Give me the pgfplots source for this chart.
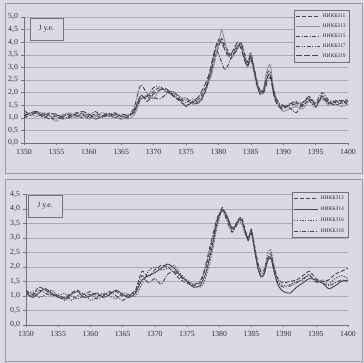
\documentclass[border=0pt]{standalone}
\usepackage{fontspec}
\setmainfont{Liberation Serif}
\usepackage{pgfplots}
\pgfplotsset{compat=1.18}
\usepackage{pgfplotstable}

\definecolor{bgc}{RGB}{220,217,227}
\definecolor{framec}{RGB}{155,153,163}
\definecolor{gridc}{RGB}{172,170,180}
\definecolor{axisc}{RGB}{115,113,123}
\definecolor{textc}{RGB}{50,48,56}
\definecolor{lined}{RGB}{70,68,78}
\definecolor{linel}{RGB}{145,143,153}

\pgfplotstableread{
x T1 T2 T3 T4 T5
1350 1.00 1.25 1.10 1.30 1.05
1351 1.10 1.15 1.20 1.10 1.20
1352 1.20 1.05 1.15 1.25 1.25
1353 1.10 1.20 1.05 1.15 1.00
1354 0.95 1.10 1.20 1.05 1.15
1355 1.10 0.95 1.05 0.85 1.15
1356 1.05 1.10 0.95 1.15 1.00
1357 1.15 1.20 1.05 1.10 1.00
1358 1.10 1.05 1.20 1.00 1.15
1359 1.00 1.10 1.15 1.20 1.25
1360 1.05 0.95 1.00 1.10 1.15
1361 1.15 1.05 1.10 1.25 0.95
1362 1.10 1.20 1.00 1.05 1.05
1363 1.05 1.10 1.15 1.10 1.20
1364 1.15 1.00 1.10 1.20 1.00
1365 1.05 1.10 0.95 1.05 1.15
1366 1.00 0.95 1.05 1.10 1.10
1367 1.30 1.10 1.40 1.25 1.20
1368 1.85 1.70 2.30 1.75 1.90
1369 1.75 1.90 1.95 1.85 1.65
1370 2.05 1.75 1.80 2.20 1.95
1371 2.20 2.15 1.75 2.25 2.10
1372 2.05 2.10 1.95 2.00 2.15
1373 1.90 2.00 2.05 1.95 1.85
1374 1.65 1.85 1.80 1.70 1.75
1375 1.50 1.70 1.60 1.80 1.45
1376 1.60 1.55 1.75 1.55 1.65
1377 1.75 1.65 1.60 1.60 1.85
1377.5 1.95 1.85 1.75 1.80 2.10
1378 2.20 2.05 2.05 2.10 2.35
1378.5 2.50 2.40 2.60 2.45 2.70
1379 2.90 2.75 3.10 3.00 3.20
1379.5 3.40 3.30 3.70 3.60 3.75
1380 3.80 3.90 3.55 4.00 4.10
1380.5 4.15 4.50 3.20 4.05 3.95
1381 3.90 4.00 2.90 3.80 3.70
1381.5 3.65 3.50 3.10 3.55 3.45
1382 3.45 3.35 3.40 3.50 3.55
1382.5 3.60 3.55 3.55 3.70 3.80
1383 3.85 3.75 3.80 3.90 4.00
1383.5 3.95 3.85 4.00 3.80 3.75
1384 3.50 3.40 3.60 3.40 3.30
1384.5 3.10 3.00 3.20 3.20 3.05
1385 3.45 3.30 3.60 3.50 3.35
1385.5 2.90 2.80 3.00 2.95 2.85
1386 2.30 2.20 2.40 2.35 2.25
1386.5 2.00 1.95 2.05 2.05 1.90
1387 2.10 2.20 2.00 2.15 2.05
1387.5 2.60 2.90 2.40 2.75 2.55
1388 2.70 3.10 2.60 2.85 2.75
1388.5 2.00 2.20 2.10 2.05 1.95
1389 1.60 1.70 1.75 1.65 1.55
1389.5 1.45 1.40 1.55 1.50 1.40
1390 1.40 1.25 1.50 1.45 1.35
1391 1.55 1.35 1.40 1.55 1.50
1392 1.60 1.45 1.20 1.65 1.55
1393 1.45 1.35 1.55 1.50 1.60
1394 1.75 1.65 1.80 1.70 1.85
1395 1.50 1.45 1.60 1.40 1.55
1396 1.85 1.75 2.00 1.90 1.80
1397 1.55 1.50 1.70 1.60 1.65
1398 1.65 1.55 1.60 1.70 1.50
1399 1.70 1.45 1.65 1.55 1.60
1400 1.50 1.55 1.75 1.65 1.70
}\toptable

\pgfplotstableread{
x B1 B2 B3 B4
1350 1.20 1.10 1.00 1.15
1351 1.05 0.95 1.15 1.00
1352 1.30 1.10 0.95 1.20
1353 1.20 1.25 1.05 1.10
1354 1.05 1.10 1.20 1.00
1355 1.00 0.95 1.00 1.05
1356 0.95 0.90 1.10 0.85
1357 1.10 1.05 0.85 1.00
1358 1.20 1.15 1.00 0.90
1359 1.05 0.95 1.10 1.00
1360 1.15 1.00 0.85 1.05
1361 1.00 1.10 0.95 0.90
1362 1.05 0.95 1.10 1.00
1363 1.10 1.05 1.00 1.15
1364 1.15 1.20 0.90 1.00
1365 1.00 1.05 1.10 0.85
1366 1.05 0.95 1.05 1.00
1367 1.20 1.10 1.00 1.15
1368 1.85 1.55 1.40 1.70
1369 1.65 1.70 1.85 1.45
1370 1.90 1.80 2.00 1.60
1371 2.05 1.95 1.90 1.40
1372 2.00 2.10 1.95 1.75
1373 1.80 1.95 2.05 1.85
1374 1.55 1.70 1.75 1.65
1375 1.45 1.50 1.55 1.50
1376 1.35 1.30 1.40 1.40
1377 1.45 1.35 1.30 1.50
1377.5 1.70 1.55 1.40 1.75
1378 2.05 1.85 1.70 2.15
1378.5 2.50 2.30 2.10 2.65
1379 2.95 2.80 2.60 3.10
1379.5 3.45 3.35 3.20 3.55
1380 3.80 3.75 3.65 3.85
1380.5 4.05 3.95 4.00 3.95
1381 3.80 3.85 3.75 3.70
1381.5 3.55 3.60 3.50 3.40
1382 3.35 3.30 3.20 3.20
1382.5 3.45 3.40 3.40 3.35
1383 3.65 3.60 3.55 3.55
1383.5 3.70 3.60 3.50 3.65
1384 3.30 3.25 3.15 3.20
1384.5 2.95 3.00 2.95 2.90
1385 3.30 3.25 3.20 3.15
1385.5 2.70 2.60 2.70 2.55
1386 2.15 1.95 2.10 2.00
1386.5 1.85 1.65 1.80 1.70
1387 1.90 1.75 1.85 1.80
1387.5 2.30 2.20 2.45 2.20
1388 2.45 2.35 2.60 2.30
1388.5 2.00 1.85 2.05 1.90
1389 1.65 1.45 1.60 1.50
1389.5 1.50 1.25 1.40 1.35
1390 1.45 1.15 1.35 1.30
1391 1.50 1.10 1.40 1.35
1392 1.55 1.30 1.50 1.45
1393 1.70 1.45 1.55 1.60
1394 1.85 1.60 1.75 1.70
1395 1.60 1.55 1.45 1.50
1396 1.50 1.45 1.55 1.45
1397 1.55 1.25 1.40 1.35
1398 1.75 1.35 1.60 1.45
1399 1.85 1.50 1.70 1.55
1400 1.95 1.55 1.60 1.50
}\bottable

\pgfplotsset{
  mychart/.style={
    scale only axis,
    anchor=south west,
    xmin=1350, xmax=1400,
    xtick={1350,1355,...,1400},
    axis x line*=bottom,
    axis y line*=left,
    ymajorgrids,
    grid style={gridc, line width=0.5bp},
    axis line style={axisc, line width=0.6bp},
    tick style={axisc, line width=0.5bp},
    tick align=outside,
    major tick length=2.5bp,
    tick label style={font=\fontsize{7.8bp}{9bp}\selectfont, text=textc},
    xticklabel style={/pgf/number format/.cd, fixed, precision=0, 1000 sep={}, assume math mode=true},
    yticklabel style={/pgf/number format/.cd, fixed, fixed zerofill, precision=1, use comma, assume math mode=true},
    legend style={draw=axisc, fill=bgc, line width=0.5bp, font=\fontsize{5.5bp}{6.5bp}\selectfont, text=textc,
      legend cell align=left, row sep=0.8bp, inner xsep=2bp, inner ysep=1.5bp},
    legend image code/.code={\draw[##1] (0bp,0bp) -- (24bp,0bp);},
    every axis plot/.append style={line width=0.9bp, smooth, tension=0.4},
  },
  s1/.style={lined, dash pattern=on 4bp off 2bp},
  s2/.style={linel},
  s3/.style={lined, dash pattern=on 4bp off 1.5bp on 1bp off 1.5bp},
  s4/.style={lined, dash pattern=on 4bp off 1.5bp on 1bp off 1.5bp on 1bp off 1.5bp},
  s5/.style={lined, dash pattern=on 6bp off 2bp},
  b2/.style={lined},
  b3/.style={lined, dash pattern=on 1.2bp off 1.5bp},
}

\begin{document}
\begin{tikzpicture}
\fill[bgc] (0bp,0bp) rectangle (364bp,363bp);
\draw[framec, line width=0.6bp] (5bp,190bp) rectangle (362bp,360bp);
\draw[framec, line width=0.6bp] (5bp,2bp) rectangle (362bp,184bp);

\begin{axis}[mychart, at={(24bp,220bp)}, width=324bp, height=126bp,
  ymin=0, ymax=5, ytick={0,0.5,1,1.5,2,2.5,3,3.5,4,4.5,5},
  legend style={at={(1.006,1.056)}, anchor=north east}]
\addplot[s1] table[x=x,y=T1] {\toptable};
\addplot[s2] table[x=x,y=T2] {\toptable};
\addplot[s3] table[x=x,y=T3] {\toptable};
\addplot[s4] table[x=x,y=T4] {\toptable};
\addplot[s5] table[x=x,y=T5] {\toptable};
\legend{НИКБ311,НИКБ313,НИКБ315,НИКБ317,НИКБ319}
\node[draw=axisc, fill=bgc, line width=0.5bp, minimum width=33bp, minimum height=22bp,
  font=\fontsize{7.8bp}{9bp}\selectfont, text=textc] at (axis description cs:0.069,0.905) {J у.е.};
\end{axis}

\begin{axis}[mychart, at={(26bp,38bp)}, width=322bp, height=130.7bp,
  ymin=0, ymax=4.5, ytick={0,0.5,1,1.5,2,2.5,3,3.5,4,4.5},
  legend style={at={(1.0,1.018)}, anchor=north east, row sep=2bp}]
\addplot[s1] table[x=x,y=B1] {\bottable};
\addplot[b2] table[x=x,y=B2] {\bottable};
\addplot[b3] table[x=x,y=B3] {\bottable};
\addplot[s3] table[x=x,y=B4] {\bottable};
\legend{НИКБ312,НИКБ314,НИКБ316,НИКБ318}
\node[draw=axisc, fill=bgc, line width=0.5bp, minimum width=34bp, minimum height=22bp,
  font=\fontsize{7.8bp}{9bp}\selectfont, text=textc] at (axis description cs:0.059,0.91) {J у.е.};
\end{axis}
\end{tikzpicture}
\end{document}
